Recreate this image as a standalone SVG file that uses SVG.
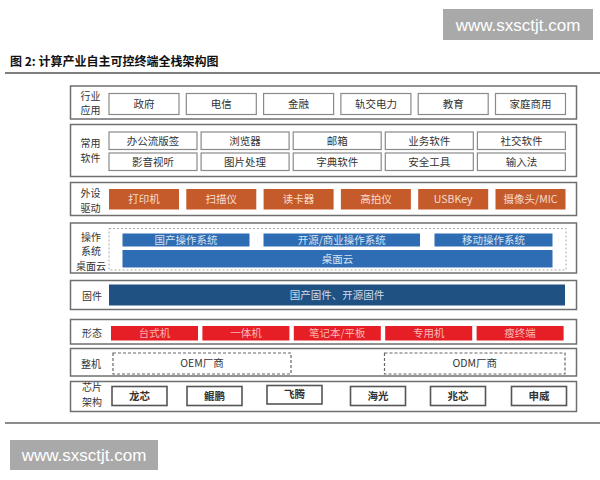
<svg xmlns="http://www.w3.org/2000/svg" width="600" height="480" viewBox="0 0 600 480">
<style>
text{font-family:"Noto Sans CJK SC","Liberation Sans",sans-serif;}
.wm{fill:#a9a9a9;}
.wmt{fill:#fff;font-family:"Liberation Sans",Arial,sans-serif;font-size:17px;}
.title{font-size:12px;font-weight:bold;fill:#111;}
.row{fill:#fff;stroke:#6f6f6f;stroke-width:1.5;}
.lbl{font-size:10px;fill:#333;text-anchor:middle;}
.box{fill:#fff;stroke:#8a8a8a;stroke-width:1.2;}
.bt{font-size:10.5px;fill:#333;text-anchor:middle;}
.org{fill:#c55a2b;}
.ot{font-size:10.5px;fill:#f7ddd0;text-anchor:middle;}
.os{fill:#2e6db3;}
.ost{font-size:10.5px;fill:#d6e4f4;text-anchor:middle;}
.fw{fill:#1f5283;}
.red{fill:#e61e25;}
.rt{font-size:10.5px;fill:#f8b9b9;text-anchor:middle;}
.dash{fill:none;stroke:#666;stroke-width:1.2;stroke-dasharray:3 2;}
.dot{fill:none;stroke:#aaa;stroke-width:1;stroke-dasharray:2 2;}
.chip{fill:#fff;stroke:#555;stroke-width:1.6;}
.ct{font-size:10.5px;font-weight:bold;fill:#333;text-anchor:middle;}
</style>

<g id="watermark-top"><rect class="wm" x="443" y="9" width="150" height="31"/><text class="wmt" x="518" y="30.5" text-anchor="middle">www.sxsctjt.com</text></g>
<g id="title"><text class="title" x="10" y="66">图 2: 计算产业自主可控终端全栈架构图</text>
<line x1="5" y1="73" x2="600" y2="73" stroke="#555" stroke-width="1.5"/></g>
<line x1="5" y1="423" x2="600" y2="423" stroke="#666" stroke-width="1.5"/>
<g id="watermark-bottom"><rect class="wm" x="10" y="440" width="148" height="30"/><text class="wmt" x="84" y="461" text-anchor="middle">www.sxsctjt.com</text></g>

<g id="connectors"></g>

<g id="row-industry">
<rect class="row" x="70.5" y="86" width="506" height="33"/>
<text class="lbl" x="90.5" y="99.6">行业</text><text class="lbl" x="90.5" y="114.1">应用</text>
<rect class="box" x="109" y="93.5" width="70" height="21"/><text class="bt" x="144" y="107.5">政府</text>
<rect class="box" x="186.3" y="93.5" width="70" height="21"/><text class="bt" x="221.3" y="107.5">电信</text>
<rect class="box" x="263.6" y="93.5" width="70" height="21"/><text class="bt" x="298.6" y="107.5">金融</text>
<rect class="box" x="340.9" y="93.5" width="70" height="21"/><text class="bt" x="375.9" y="107.5">轨交电力</text>
<rect class="box" x="418.2" y="93.5" width="70" height="21"/><text class="bt" x="453.2" y="107.5">教育</text>
<rect class="box" x="495.5" y="93.5" width="70" height="21"/><text class="bt" x="530.5" y="107.5">家庭商用</text>
</g>

<g id="row-software">
<rect class="row" x="70.5" y="124.5" width="506" height="52"/>
<text class="lbl" x="90.5" y="147.2">常用</text><text class="lbl" x="90.5" y="161.7">软件</text>
<rect class="box" x="109" y="132" width="88" height="17.5"/><text class="bt" x="153" y="144.5">办公流版签</text>
<rect class="box" x="201.1" y="132" width="88" height="17.5"/><text class="bt" x="245.1" y="144.5">浏览器</text>
<rect class="box" x="293.2" y="132" width="88" height="17.5"/><text class="bt" x="337.2" y="144.5">邮箱</text>
<rect class="box" x="385.3" y="132" width="88" height="17.5"/><text class="bt" x="429.3" y="144.5">业务软件</text>
<rect class="box" x="477.4" y="132" width="88" height="17.5"/><text class="bt" x="521.4" y="144.5">社交软件</text>
<rect class="box" x="109" y="153" width="88" height="17.5"/><text class="bt" x="153" y="165.5">影音视听</text>
<rect class="box" x="201.1" y="153" width="88" height="17.5"/><text class="bt" x="245.1" y="165.5">图片处理</text>
<rect class="box" x="293.2" y="153" width="88" height="17.5"/><text class="bt" x="337.2" y="165.5">字典软件</text>
<rect class="box" x="385.3" y="153" width="88" height="17.5"/><text class="bt" x="429.3" y="165.5">安全工具</text>
<rect class="box" x="477.4" y="153" width="88" height="17.5"/><text class="bt" x="521.4" y="165.5">输入法</text>
</g>

<g id="row-drivers">
<rect class="row" x="70.5" y="182.5" width="506" height="33"/>
<text class="lbl" x="90.5" y="197">外设</text><text class="lbl" x="90.5" y="211.5">驱动</text>
<rect class="org" x="109" y="189" width="70" height="20.5"/><text class="ot" x="144" y="203">打印机</text>
<rect class="org" x="186.3" y="189" width="70" height="20.5"/><text class="ot" x="221.3" y="203">扫描仪</text>
<rect class="org" x="263.6" y="189" width="70" height="20.5"/><text class="ot" x="298.6" y="203">读卡器</text>
<rect class="org" x="340.9" y="189" width="70" height="20.5"/><text class="ot" x="375.9" y="203">高拍仪</text>
<rect class="org" x="418.2" y="189" width="70" height="20.5"/><text class="ot" x="453.2" y="203">USBKey</text>
<rect class="org" x="495.5" y="189" width="70" height="20.5"/><text class="ot" x="530.5" y="203">摄像头/MIC</text>
</g>

<g id="row-os">
<rect class="row" x="70.5" y="223" width="506" height="50"/>
<text class="lbl" x="91" y="240.5">操作</text><text class="lbl" x="91" y="255">系统</text><text class="lbl" x="91" y="269.5">桌面云</text>
<rect class="dot" x="109" y="228.5" width="457" height="41.5"/>
<rect class="os" x="122.5" y="233.5" width="127" height="13"/><text class="ost" x="186" y="244">国产操作系统</text>
<rect class="os" x="263.5" y="233.5" width="156.5" height="13"/><text class="ost" x="341.75" y="244">开源/商业操作系统</text>
<rect class="os" x="434.5" y="233.5" width="118" height="13"/><text class="ost" x="493.5" y="244">移动操作系统</text>
<rect class="os" x="122.5" y="250" width="430" height="17.5"/><text class="ost" x="337.5" y="262.5">桌面云</text>
</g>

<g id="row-firmware">
<rect class="row" x="70.5" y="280.5" width="506" height="29"/>
<text class="lbl" x="92" y="299.5">固件</text>
<rect class="fw" x="109" y="284.5" width="456" height="21"/><text class="ost" x="337" y="298.5" style="fill:#cfdcea">国产固件、开源固件</text>
</g>

<g id="row-form">
<rect class="row" x="70.5" y="319.5" width="506" height="24.5"/>
<text class="lbl" x="92" y="337">形态</text>
<rect class="red" x="111" y="326" width="87" height="14.5"/><text class="rt" x="154.5" y="337">台式机</text>
<rect class="red" x="202.4" y="326" width="87" height="14.5"/><text class="rt" x="245.9" y="337">一体机</text>
<rect class="red" x="293.8" y="326" width="87" height="14.5"/><text class="rt" x="337.3" y="337">笔记本/平板</text>
<rect class="red" x="385.2" y="326" width="87" height="14.5"/><text class="rt" x="428.7" y="337">专用机</text>
<rect class="red" x="476.6" y="326" width="87" height="14.5"/><text class="rt" x="520.1" y="337">瘦终端</text>
</g>

<g id="row-machine">
<rect class="row" x="70.5" y="348.5" width="506" height="27.5"/>
<text class="lbl" x="91" y="368">整机</text>
<rect class="dash" x="113" y="353" width="178" height="21"/><text class="bt" x="202" y="367">OEM厂商</text>
<rect class="dash" x="384.5" y="353" width="180.5" height="21"/><text class="bt" x="474.75" y="367">ODM厂商</text>
</g>

<g id="row-chip">
<rect class="row" x="70.5" y="381.5" width="506" height="30"/>
<text class="lbl" x="92" y="391">芯片</text><text class="lbl" x="92" y="405.5">架构</text>
<rect class="chip" x="112" y="386.5" width="55" height="19"/><text class="ct" x="139.5" y="399.5">龙芯</text>
<rect class="chip" x="187" y="386.5" width="55" height="19"/><text class="ct" x="214.5" y="399.5">鲲鹏</text>
<rect class="chip" x="267" y="385.5" width="55" height="18.5"/><text class="ct" x="294.5" y="397.5">飞腾</text>
<rect class="chip" x="350.5" y="386.5" width="55" height="19"/><text class="ct" x="378" y="399.5">海光</text>
<rect class="chip" x="430.5" y="386.5" width="55" height="19"/><text class="ct" x="458" y="399.5">兆芯</text>
<rect class="chip" x="511.5" y="386.5" width="55" height="19"/><text class="ct" x="539" y="399.5">申威</text>
</g>
</svg>
